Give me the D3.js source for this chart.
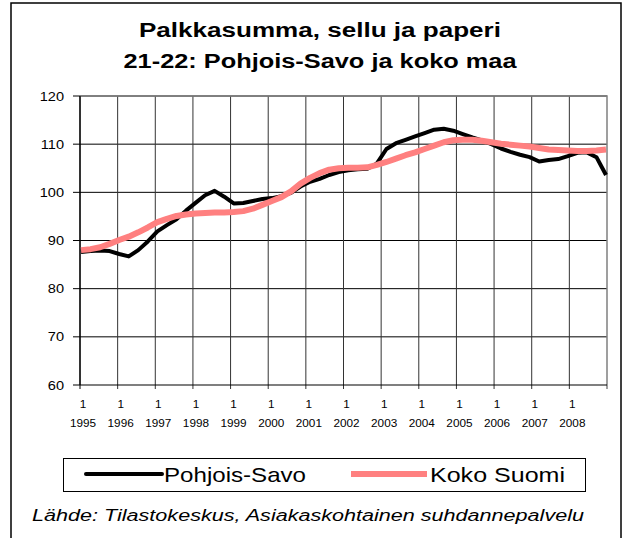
<!DOCTYPE html>
<html>
<head>
<meta charset="utf-8">
<script src="https://cdn.jsdelivr.net/npm/d3@7"></script>
<style>
  body { margin: 0; background: #fff; }
  text { font-family: Arial, "Liberation Sans", sans-serif; }
</style>
</head>
<body>
<svg width="626" height="538"></svg>
<script>
// Quarterly values, 1995 Q1 .. 2008 Q4
const years = d3.range(1995, 2009);
const yTicks = [60, 70, 80, 90, 100, 110, 120];
const pohjoisSavo = [
  87.6, 87.8, 87.9, 87.8,   87.2, 86.7, 88.0, 89.8,   91.9, 93.2, 94.4, 96.2,
  97.8, 99.4, 100.3, 99.1,  97.7, 97.8, 98.2, 98.6,   98.8, 99.2, 99.9, 101.2,
  102.2, 102.8, 103.6, 104.2, 104.6, 104.8, 104.9, 106.0, 109.0, 110.2, 110.9, 111.6,
  112.3, 113.0, 113.2, 112.8, 112.1, 111.4, 110.8, 110.0, 109.1, 108.4, 107.8, 107.3,
  106.4, 106.7, 106.9, 107.5, 108.2, 108.3, 107.3, 103.6
];
const kokoSuomi = [
  88.0, 88.2, 88.6, 89.3,   90.1, 90.8, 91.7, 92.7,   93.8, 94.5, 95.1, 95.4,
  95.6, 95.7, 95.8, 95.8,   95.9, 96.1, 96.6, 97.4,   98.2, 99.0, 100.2, 101.8,
  103.0, 104.0, 104.7, 105.0, 105.1, 105.1, 105.2, 105.7, 106.3, 107.0, 107.7, 108.3,
  109.0, 109.7, 110.4, 110.8, 110.9, 110.9, 110.7, 110.4, 110.1, 109.9, 109.7, 109.5,
  109.2, 108.9, 108.8, 108.7, 108.6, 108.6, 108.7, 108.9
];
const seriesNames = ["Pohjois-Savo", "Koko Suomi"];
const seriesColors = ["#000000", "#ff8080"];

const svg = d3.select("svg");
const SX = 1.12; // horizontal text stretch of the original picture

// outer frame
svg.append("rect")
  .attr("x", 11).attr("y", 3).attr("width", 610).attr("height", 560)
  .attr("fill", "none").attr("stroke", "#000").attr("stroke-width", 1.5);

// title
svg.append("text").attr("x", 320).attr("y", 37).attr("text-anchor", "middle")
  .attr("font-size", 19.5).attr("font-weight", "bold")
  .attr("textLength", 362).attr("lengthAdjust", "spacingAndGlyphs")
  .text("Palkkasumma, sellu ja paperi");
svg.append("text").attr("x", 320).attr("y", 68).attr("text-anchor", "middle")
  .attr("font-size", 19.5).attr("font-weight", "bold")
  .attr("textLength", 393).attr("lengthAdjust", "spacingAndGlyphs")
  .text("21-22: Pohjois-Savo ja koko maa");

const plot = { left: 80, top: 96, right: 607, bottom: 385 };

// year grid scale (in quarters) and scale for the quarterly points
const x = d3.scaleLinear().domain([0, years.length * 4]).range([plot.left, plot.right]);
const xq = d3.scaleLinear().domain([0, pohjoisSavo.length - 1]).range([plot.left + 1, plot.right - 1]);
const y = d3.scaleLinear().domain([60, 120]).range([plot.bottom, plot.top]);

const g = svg.append("g");

// horizontal gridlines
g.selectAll(".hgrid").data(yTicks.filter(d => d > 60)).enter().append("line")
  .attr("x1", plot.left - 7).attr("x2", plot.right)
  .attr("y1", d => y(d)).attr("y2", d => y(d))
  .attr("stroke", "#000").attr("stroke-width", 1);

// vertical gridlines at each year start
g.selectAll(".vgrid").data(years).enter().append("line")
  .attr("x1", (d, i) => x(i * 4)).attr("x2", (d, i) => x(i * 4))
  .attr("y1", plot.top).attr("y2", plot.bottom + 4)
  .attr("stroke", (d, i) => i === 0 ? "#000" : "#333").attr("stroke-width", 1);

// top and right plot border
g.append("path")
  .attr("d", `M${plot.left},${plot.top}H${plot.right}V${plot.bottom + 4}`)
  .attr("fill", "none").attr("stroke", "#808080").attr("stroke-width", 1.5);

// axes
g.append("line").attr("x1", plot.left - 7).attr("x2", plot.right)
  .attr("y1", plot.bottom).attr("y2", plot.bottom).attr("stroke", "#000").attr("stroke-width", 1.2);
g.append("line").attr("x1", plot.left).attr("x2", plot.left)
  .attr("y1", plot.top).attr("y2", plot.bottom).attr("stroke", "#000").attr("stroke-width", 1.2);

// y labels
g.selectAll(".ylab").data(yTicks).enter().append("text")
  .attr("transform", d => `translate(64,${y(d) + 4.5}) scale(${SX},1)`)
  .attr("text-anchor", "end").attr("font-size", 13).attr("fill", "#000")
  .text(d => d);

// x labels: month "1" and year
g.selectAll(".xm").data(years).enter().append("text")
  .attr("transform", (d, i) => `translate(${x(i * 4) + 3},408) scale(${SX},1)`)
  .attr("text-anchor", "middle").attr("font-size", 10.5).text("1");
g.selectAll(".xy").data(years).enter().append("text")
  .attr("transform", (d, i) => `translate(${x(i * 4) + 3},427) scale(${SX},1)`)
  .attr("text-anchor", "middle").attr("font-size", 10.5).text(d => d);

// lines (Koko Suomi drawn last, on top)
const line = d3.line().x((d, i) => xq(i)).y(d => y(d));
g.append("path").datum(pohjoisSavo).attr("d", line)
  .attr("fill", "none").attr("stroke", seriesColors[0]).attr("stroke-width", 4)
  .attr("stroke-linejoin", "round");
g.append("path").datum(kokoSuomi).attr("d", line)
  .attr("fill", "none").attr("stroke", seriesColors[1]).attr("stroke-width", 6)
  .attr("stroke-linejoin", "round");

// legend
const leg = svg.append("g");
leg.append("rect").attr("x", 63.5).attr("y", 458.5).attr("width", 522).attr("height", 33)
  .attr("fill", "#fff").attr("stroke", "#000").attr("stroke-width", 1);
const legItems = [
  { x0: 86, x1: 162, tx: 164, tw: 142, w: 4 },
  { x0: 351, x1: 427, tx: 430, tw: 135, w: 6 }
];
legItems.forEach((it, i) => {
  leg.append("line").attr("x1", it.x0).attr("x2", it.x1).attr("y1", 474).attr("y2", 474)
    .attr("stroke", seriesColors[i]).attr("stroke-width", it.w)
    .attr("stroke-linecap", i === 0 ? "round" : "butt");
  leg.append("text").attr("x", it.tx).attr("y", 481.5).attr("font-size", 21)
    .attr("textLength", it.tw).attr("lengthAdjust", "spacingAndGlyphs")
    .text(seriesNames[i]);
});

// source
svg.append("text").attr("x", 32).attr("y", 521).attr("font-size", 16)
  .attr("font-style", "italic")
  .attr("textLength", 552).attr("lengthAdjust", "spacingAndGlyphs")
  .text("Lähde: Tilastokeskus, Asiakaskohtainen suhdannepalvelu");
</script>
</body>
</html>
